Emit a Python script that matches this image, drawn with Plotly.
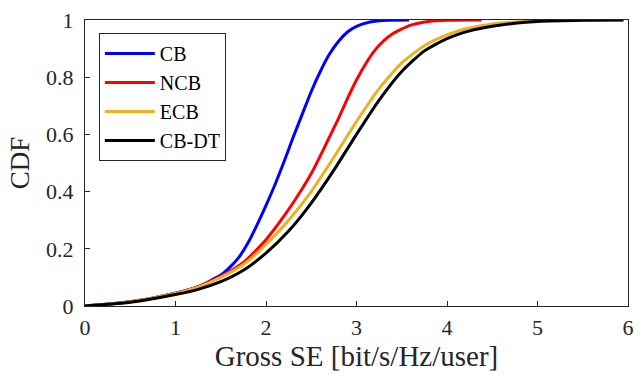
import plotly.graph_objects as go

# Data
cb_x = [0, 0.5, 1.0, 1.25, 1.5, 1.6, 1.7, 1.8, 1.9, 2.0, 2.1, 2.2, 2.3, 2.4, 2.5, 2.6, 2.7, 2.8, 2.9, 3.0, 3.15, 3.35, 3.58]
cb_y = [0, 0.015, 0.045, 0.068, 0.108, 0.135, 0.17, 0.22, 0.283, 0.352, 0.425, 0.505, 0.59, 0.67, 0.75, 0.82, 0.88, 0.925, 0.958, 0.978, 0.993, 0.999, 1.0]

ncb_x = [0, 0.5, 1.0, 1.25, 1.5, 1.75, 2.0, 2.2, 2.4, 2.5, 2.6, 2.7, 2.8, 2.9, 3.0, 3.1, 3.2, 3.3, 3.4, 3.6, 3.8, 4.0, 4.2, 4.38]
ncb_y = [0, 0.015, 0.045, 0.068, 0.103, 0.152, 0.232, 0.315, 0.41, 0.463, 0.525, 0.59, 0.655, 0.725, 0.79, 0.846, 0.893, 0.927, 0.952, 0.982, 0.995, 0.999, 1.0, 1.0]

ecb_x = [0, 0.5, 1.0, 1.25, 1.5, 1.75, 2.0, 2.25, 2.5, 2.75, 3.0, 3.25, 3.5, 3.75, 4.0, 4.25, 4.5, 4.75, 5.0, 5.5, 5.95]
ecb_y = [0, 0.015, 0.044, 0.066, 0.1, 0.145, 0.215, 0.3, 0.4, 0.52, 0.645, 0.76, 0.85, 0.91, 0.948, 0.972, 0.986, 0.993, 0.997, 0.9995, 1.0]

cbdt_x = [0, 0.5, 1.0, 1.25, 1.5, 1.75, 2.0, 2.25, 2.5, 2.75, 3.0, 3.25, 3.5, 3.75, 4.0, 4.25, 4.5, 4.75, 5.0, 5.5, 5.95]
cbdt_y = [0, 0.013, 0.04, 0.058, 0.085, 0.125, 0.185, 0.262, 0.36, 0.475, 0.6, 0.72, 0.82, 0.892, 0.935, 0.962, 0.978, 0.989, 0.995, 0.999, 1.0]

names = ["CB", "NCB", "ECB", "CB-DT"]
colors = ["#0000FF", "#FF0000", "#EDB120", "#000000"]
xs = [cb_x, ncb_x, ecb_x, cbdt_x]
ys = [cb_y, ncb_y, ecb_y, cbdt_y]

x_ticks = [0, 1, 2, 3, 4, 5, 6]
y_ticks = [0, 0.2, 0.4, 0.6, 0.8, 1]
y_tick_labels = ["0", "0.2", "0.4", "0.6", "0.8", "1"]

FONT = "Liberation Serif"

fig = go.Figure()
for x, y, n, c in zip(xs, ys, names, colors):
    fig.add_trace(go.Scatter(x=x, y=y, name=n, mode="lines",
                             line=dict(color=c, width=3, shape="spline", smoothing=0.6)))

axis_common = dict(showline=True, mirror=True, linecolor="#262626", linewidth=1,
                   ticks="inside", ticklen=5, tickcolor="#262626", showgrid=False,
                   zeroline=False, tickfont=dict(family=FONT, size=22, color="#262626"))

fig.update_layout(
    width=642, height=375,
    margin=dict(l=85, r=8, t=20, b=69),
    paper_bgcolor="white", plot_bgcolor="white",
    font=dict(family=FONT, color="#262626"),
    xaxis=dict(range=[0, 6], tickvals=x_ticks, ticklabelstandoff=2,
               title=dict(text="Gross SE [bit/s/Hz/user]", font=dict(family=FONT, size=29), standoff=3),
               **axis_common),
    yaxis=dict(range=[0, 1], tickvals=y_ticks, ticktext=y_tick_labels, ticklabelstandoff=6,
               title=dict(text="CDF", font=dict(family=FONT, size=27), standoff=8),
               **axis_common),
    legend=dict(x=0.0255, y=0.9545, xanchor="left", yanchor="top",
                bgcolor="white", bordercolor="#262626", borderwidth=1,
                font=dict(family=FONT, size=20, color="#000000"),
                itemwidth=50, tracegroupgap=0),
    showlegend=True,
)

fig.write_html("out.html")
